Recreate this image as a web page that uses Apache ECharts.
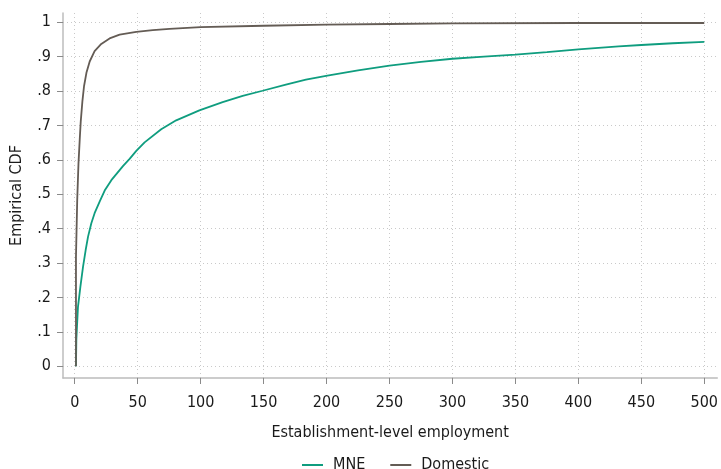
<!DOCTYPE html>
<html>
<head>
<meta charset="utf-8">
<script src="https://cdn.jsdelivr.net/npm/echarts@6/dist/echarts.min.js"></script>
<style>
  html, body { margin: 0; padding: 0; background: #fff; }
  #chart { width: 721px; height: 469px; }
</style>
</head>
<body>
<div id="chart"></div>
<script>
// Establishment size (employees) and cumulative share, by ownership type
const mneSize = [1, 1.3, 2.6, 4.5, 6.6, 8.7, 10.6, 13.2, 15.8, 19.8, 23.8, 29.1, 38.3, 43.6, 48.9, 55.5, 68.7, 80.6, 99, 117.5, 133.4, 149.2, 167.7, 183.6, 200.7, 225, 250, 275, 300, 325, 350, 375, 400, 432, 450, 475, 500];
const mneCdf  = [0, 0.078, 0.173, 0.231, 0.289, 0.338, 0.377, 0.416, 0.445, 0.479, 0.511, 0.541, 0.582, 0.603, 0.626, 0.651, 0.689, 0.715, 0.744, 0.768, 0.786, 0.801, 0.819, 0.833, 0.845, 0.86, 0.874, 0.885, 0.894, 0.90, 0.906, 0.913, 0.921, 0.930, 0.934, 0.939, 0.943];

const domSize = [1, 1, 2, 3, 4, 4.8, 6.1, 7.4, 9.3, 11.9, 15.8, 21.1, 27.7, 35.7, 48.9, 62, 75.3, 100, 150, 200, 250, 300, 400, 500];
const domCdf  = [0, 0.318, 0.484, 0.59, 0.66, 0.712, 0.77, 0.814, 0.853, 0.886, 0.916, 0.937, 0.953, 0.964, 0.972, 0.977, 0.981, 0.986, 0.990, 0.993, 0.995, 0.997, 0.998, 0.998];

const xTicks = [0, 50, 100, 150, 200, 250, 300, 350, 400, 450, 500];
const yTicks = [0, 0.1, 0.2, 0.3, 0.4, 0.5, 0.6, 0.7, 0.8, 0.9, 1];
const yTickLabels = ['0', '.1', '.2', '.3', '.4', '.5', '.6', '.7', '.8', '.9', '1'];

const FONT = '"Liberation Sans Narrow", "DejaVu Sans Condensed", "Roboto", sans-serif';
const AXIS_GREY = '#bcbcbc';
const GRID_GREY = '#c9c9c9';

const pairs = (xs, ys) => xs.map((x, i) => [x, ys[i]]);

const chart = echarts.init(document.getElementById('chart'), null, { renderer: 'canvas' });
chart.setOption({
  animation: false,
  backgroundColor: '#ffffff',
  textStyle: { fontFamily: FONT },
  grid: { left: 63, right: 2, top: 13, bottom: 91, containLabel: false },
  xAxis: {
    type: 'value',
    min: -9.3,
    max: 510.3,
    name: 'Establishment-level employment',
    nameLocation: 'middle',
    nameGap: 47,
    nameTextStyle: { fontFamily: FONT, fontSize: 16, color: '#1a1a1a' },
    axisLine: { show: true, onZero: false, lineStyle: { color: AXIS_GREY, width: 1.5 } },
    axisTick: { show: true, length: 6, customValues: xTicks, lineStyle: { color: '#8a8a8a', width: 1 } },
    axisLabel: { customValues: xTicks, margin: 17, fontFamily: FONT, fontSize: 16, color: '#1a1a1a' },
    splitLine: { show: true, lineStyle: { color: GRID_GREY, type: [1, 3], width: 1 } }
  },
  yAxis: {
    type: 'value',
    min: -0.034,
    max: 1.027,
    name: 'Empirical CDF',
    nameLocation: 'middle',
    nameGap: 38,
    nameRotate: 90,
    nameTextStyle: { fontFamily: FONT, fontSize: 16, color: '#1a1a1a' },
    axisLine: { show: true, onZero: false, lineStyle: { color: AXIS_GREY, width: 1.5 } },
    axisTick: { show: true, length: 6, customValues: yTicks, lineStyle: { color: '#8a8a8a', width: 1 } },
    axisLabel: {
      customValues: yTicks,
      margin: 12,
      fontFamily: FONT, fontSize: 16, color: '#1a1a1a',
      formatter: (v) => {
        const i = yTicks.findIndex((t) => Math.abs(t - v) < 1e-9);
        return i >= 0 ? yTickLabels[i] : '';
      }
    },
    splitLine: { show: true, lineStyle: { color: GRID_GREY, type: [1, 3], width: 1 } }
  },
  legend: {
    top: 452,
    left: 297,
    itemGap: 25,
    itemWidth: 21,
    itemHeight: 2,
    icon: 'rect',
    textStyle: { fontFamily: FONT, fontSize: 16, color: '#1a1a1a', padding: [0, 0, 0, 5] },
    data: ['MNE', 'Domestic']
  },
  series: [
    {
      name: 'MNE',
      type: 'line',
      data: pairs(mneSize, mneCdf),
      showSymbol: false,
      symbol: 'none',
      lineStyle: { color: '#0f9d7f', width: 1.8 },
      itemStyle: { color: '#0f9d7f' },
      z: 3
    },
    {
      name: 'Domestic',
      type: 'line',
      data: pairs(domSize, domCdf),
      showSymbol: false,
      symbol: 'none',
      lineStyle: { color: '#645c55', width: 1.8 },
      itemStyle: { color: '#645c55' },
      z: 4
    }
  ]
});
</script>
</body>
</html>
